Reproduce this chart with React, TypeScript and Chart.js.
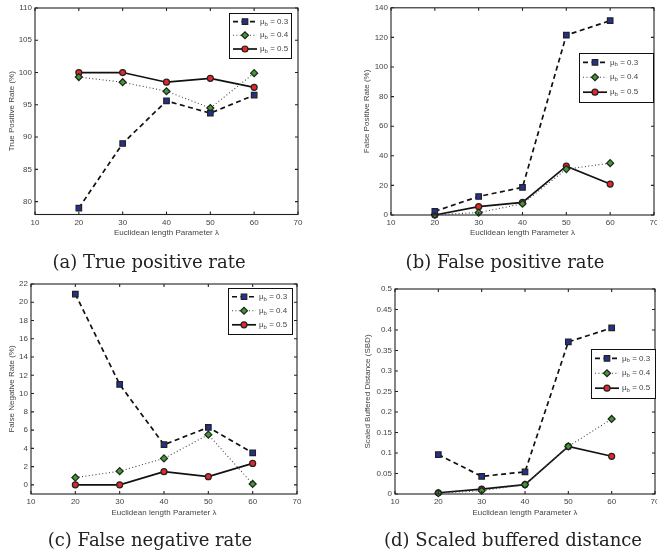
import React, { useEffect, useRef } from 'react';
import { Chart, registerables } from 'chart.js';

Chart.register(...registerables);
Chart.defaults.font.family = "'Liberation Sans', Arial, Helvetica, sans-serif";

// ---------- data ----------
const lambdaValues = [20, 30, 40, 50, 60];
const xTickValues = [10, 20, 30, 40, 50, 60, 70];
const seriesLabels = ['0.3', '0.4', '0.5'];
const xAxisTitle = 'Euclidean length Parameter λ';

const tpr03 = [79.0, 89.0, 95.6, 93.7, 96.5];
const tpr04 = [99.3, 98.5, 97.1, 94.5, 99.9];
const tpr05 = [100.0, 100.0, 98.5, 99.1, 97.7];
const tprTicks = [80, 85, 90, 95, 100, 105, 110];

const fpr03 = [2.5, 12.5, 18.7, 121.5, 131.3];
const fpr04 = [0.2, 1.6, 7.6, 31.0, 35.0];
const fpr05 = [0.0, 5.6, 8.5, 33.0, 20.9];
const fprTicks = [0, 20, 40, 60, 80, 100, 120, 140];

const fnr03 = [20.9, 11.0, 4.4, 6.3, 3.5];
const fnr04 = [0.8, 1.5, 2.9, 5.5, 0.1];
const fnr05 = [0.0, 0.0, 1.45, 0.9, 2.35];
const fnrTicks = [0, 2, 4, 6, 8, 10, 12, 14, 16, 18, 20, 22];

const sbd03 = [0.096, 0.043, 0.054, 0.371, 0.405];
const sbd04 = [0.002, 0.008, 0.023, 0.116, 0.183];
const sbd05 = [0.003, 0.012, 0.023, 0.116, 0.092];
const sbdTicks = [0, 0.05, 0.1, 0.15, 0.2, 0.25, 0.3, 0.35, 0.4, 0.45, 0.5];

// ---------- styles ----------
const seriesStyles = [
  { line: '#111', dash: [5, 3.5], width: 1.7, shape: 'rect', radius: 3.9, fill: '#24318f' },
  { line: '#444', dash: [1, 2.4], width: 1.1, shape: 'rectRot', radius: 3.5, fill: '#3f9b2f' },
  { line: '#111', dash: [] as number[], width: 1.7, shape: 'circle', radius: 3.0, fill: '#e5262b' },
];

type Rect = { x: number; y: number; w: number; h: number };
type Spec = {
  yTitle: string;
  series: number[][];
  yMin: number;
  yMax: number;
  yTicks: number[];
  canvas: Rect;
  area: { L: number; R: number; T: number; B: number };
  yTitleX: number;
  xTitleY: number;
  legend: Rect;
  caption: string;
  captionX: number;
  captionY: number;
};

const panels: Spec[] = [
  {
    yTitle: 'True Positive Rate (%)', series: [tpr03, tpr04, tpr05], yMin: 78, yMax: 110, yTicks: tprTicks,
    canvas: { x: 0, y: 0, w: 320, h: 245 }, area: { L: 35, R: 298, T: 8, B: 214.5 },
    yTitleX: 12, xTitleY: 233, legend: { x: 229, y: 13, w: 62, h: 45 },
    caption: '(a) True positive rate', captionX: 149, captionY: 262,
  },
  {
    yTitle: 'False Positive Rate (%)', series: [fpr03, fpr04, fpr05], yMin: 0, yMax: 140, yTicks: fprTicks,
    canvas: { x: 330, y: 0, w: 350, h: 245 }, area: { L: 391, R: 654, T: 7, B: 215 },
    yTitleX: 367, xTitleY: 233, legend: { x: 579, y: 53, w: 74, h: 49 },
    caption: '(b) False positive rate', captionX: 505, captionY: 262,
  },
  {
    yTitle: 'False Negative Rate (%)', series: [fnr03, fnr04, fnr05], yMin: -1, yMax: 22, yTicks: fnrTicks,
    canvas: { x: 0, y: 270, w: 320, h: 260 }, area: { L: 31, R: 297, T: 284, B: 494 },
    yTitleX: 12, xTitleY: 513, legend: { x: 228, y: 288, w: 64, h: 46 },
    caption: '(c) False negative rate', captionX: 150, captionY: 540,
  },
  {
    yTitle: 'Scaled Buffered Distance (SBD)', series: [sbd03, sbd04, sbd05], yMin: 0, yMax: 0.5, yTicks: sbdTicks,
    canvas: { x: 330, y: 270, w: 350, h: 260 }, area: { L: 395, R: 655, T: 289, B: 494 },
    yTitleX: 368, xTitleY: 513, legend: { x: 591, y: 349, w: 64, h: 49 },
    caption: '(d) Scaled buffered distance', captionX: 513, captionY: 540,
  },
];

const FONT_SIZE = 8;
const LINE_H = FONT_SIZE * 1.2;
const TEXT_COLOR = '#444';

function drawMarker(ctx: CanvasRenderingContext2D, shape: string, x: number, y: number, r: number, fill: string) {
  ctx.save();
  ctx.setLineDash([]);
  ctx.beginPath();
  if (shape === 'rect') {
    const s = Math.SQRT1_2 * r;
    ctx.rect(x - s, y - s, 2 * s, 2 * s);
  } else if (shape === 'rectRot') {
    ctx.moveTo(x - r, y);
    ctx.lineTo(x, y - r);
    ctx.lineTo(x + r, y);
    ctx.lineTo(x, y + r);
    ctx.closePath();
  } else {
    ctx.arc(x, y, r, 0, Math.PI * 2);
  }
  ctx.fillStyle = fill;
  ctx.fill();
  ctx.lineWidth = 1.2;
  ctx.strokeStyle = '#222';
  ctx.stroke();
  ctx.restore();
}

function makeFramePlugin(spec: Spec) {
  return {
    id: 'frameAndLegend',
    afterDraw(chart: any) {
      const { ctx, chartArea } = chart;
      const { left, right, top, bottom } = chartArea;
      const xs = chart.scales.x;
      const ys = chart.scales.y;
      ctx.save();
      ctx.strokeStyle = '#222';
      ctx.lineWidth = 1.1;
      ctx.setLineDash([]);
      ctx.strokeRect(left, top, right - left, bottom - top);
      const tl = 3;
      ctx.beginPath();
      for (const v of xTickValues) {
        const px = xs.getPixelForValue(v);
        ctx.moveTo(px, bottom);
        ctx.lineTo(px, bottom - tl);
        ctx.moveTo(px, top);
        ctx.lineTo(px, top + tl);
      }
      for (const v of spec.yTicks) {
        const py = ys.getPixelForValue(v);
        ctx.moveTo(left, py);
        ctx.lineTo(left + tl, py);
        ctx.moveTo(right, py);
        ctx.lineTo(right - tl, py);
      }
      ctx.stroke();

      // legend
      const lg = spec.legend;
      const bx = lg.x - spec.canvas.x;
      const by = lg.y - spec.canvas.y;
      ctx.fillStyle = '#fff';
      ctx.fillRect(bx, by, lg.w, lg.h);
      ctx.strokeStyle = '#111';
      ctx.lineWidth = 1;
      ctx.strokeRect(bx + 0.5, by + 0.5, lg.w, lg.h);
      seriesStyles.forEach((st, i) => {
        const ry = by + lg.h * (0.19 + 0.305 * i);
        ctx.save();
        ctx.strokeStyle = st.line;
        ctx.lineWidth = st.width;
        ctx.setLineDash(st.dash);
        ctx.beginPath();
        ctx.moveTo(bx + 4, ry);
        ctx.lineTo(bx + 28, ry);
        ctx.stroke();
        ctx.restore();
        drawMarker(ctx, st.shape, bx + 16, ry, st.radius, st.fill);
        ctx.fillStyle = TEXT_COLOR;
        ctx.textBaseline = 'middle';
        ctx.textAlign = 'left';
        ctx.font = `${FONT_SIZE}px 'Liberation Sans', Arial, sans-serif`;
        let tx = bx + 31;
        ctx.fillText('μ', tx, ry);
        tx += ctx.measureText('μ').width;
        ctx.font = `6px 'Liberation Sans', Arial, sans-serif`;
        ctx.fillText('b', tx, ry + 2.5);
        tx += ctx.measureText('b').width;
        ctx.font = `${FONT_SIZE}px 'Liberation Sans', Arial, sans-serif`;
        ctx.fillText(' = ' + seriesLabels[i], tx, ry);
      });
      ctx.restore();
    },
  };
}

function Panel({ spec }: { spec: Spec }) {
  const ref = useRef<HTMLCanvasElement>(null);
  useEffect(() => {
    const c = ref.current!;
    const { canvas, area } = spec;
    const chart = new Chart(c, {
      type: 'line',
      data: {
        datasets: spec.series.map((vals, i) => {
          const st = seriesStyles[i];
          return {
            label: 'μb = ' + seriesLabels[i],
            data: lambdaValues.map((x, j) => ({ x, y: vals[j] })),
            borderColor: st.line,
            borderWidth: st.width,
            borderDash: st.dash,
            pointStyle: st.shape as any,
            pointRadius: st.radius,
            pointBackgroundColor: st.fill,
            pointBorderColor: '#222',
            pointBorderWidth: 1.2,
            tension: 0,
            fill: false,
            clip: false as any,
          };
        }),
      },
      options: {
        animation: false,
        responsive: false,
        devicePixelRatio: 1,
        events: [],
        layout: {
          padding: {
            left: 0,
            top: area.T - canvas.y,
            right: canvas.x + canvas.w - area.R,
            bottom: 0,
          },
        },
        plugins: { legend: { display: false }, tooltip: { enabled: false } },
        scales: {
          x: {
            type: 'linear',
            min: 10,
            max: 70,
            afterBuildTicks: (s: any) => { s.ticks = xTickValues.map((v) => ({ value: v })); },
            afterFit: (s: any) => { s.height = canvas.y + canvas.h - area.B; },
            grid: { display: false, drawTicks: false },
            border: { display: false },
            ticks: { padding: 3, color: TEXT_COLOR, font: { size: FONT_SIZE }, autoSkip: false, maxRotation: 0, callback: (v: any) => String(v) },
            title: {
              display: true, text: xAxisTitle, color: TEXT_COLOR, font: { size: FONT_SIZE },
              padding: { top: 0, bottom: canvas.y + canvas.h - spec.xTitleY - LINE_H / 2 },
            },
          },
          y: {
            type: 'linear',
            min: spec.yMin,
            max: spec.yMax,
            afterBuildTicks: (s: any) => { s.ticks = spec.yTicks.map((v) => ({ value: v })); },
            afterFit: (s: any) => { s.width = area.L - canvas.x; },
            grid: { display: false, drawTicks: false },
            border: { display: false },
            ticks: { padding: 3, color: TEXT_COLOR, font: { size: FONT_SIZE }, autoSkip: false, callback: (v: any) => String(Number(v)) },
            title: {
              display: true, text: spec.yTitle, color: TEXT_COLOR, font: { size: FONT_SIZE },
              padding: { top: spec.yTitleX - canvas.x - LINE_H / 2, bottom: 0 },
            },
          },
        },
      } as any,
      plugins: [makeFramePlugin(spec)],
    });
    return () => chart.destroy();
  }, [spec]);
  const { canvas } = spec;
  return (
    <canvas
      ref={ref}
      width={canvas.w}
      height={canvas.h}
      style={{ position: 'absolute', left: canvas.x, top: canvas.y, width: canvas.w, height: canvas.h }}
    />
  );
}

export default function App() {
  return (
    <div style={{ position: 'absolute', left: 0, top: 0, width: 657, height: 553, overflow: 'hidden', background: '#fff' }}>
      {panels.map((p, i) => (
        <Panel key={i} spec={p} />
      ))}
      {panels.map((p, i) => (
        <div
          key={'c' + i}
          style={{
            position: 'absolute', left: p.captionX, top: p.captionY, transform: 'translate(-50%, -50%)',
            fontFamily: "'DejaVu Serif', 'Liberation Serif', serif", fontSize: 18, lineHeight: 1,
            color: '#222', whiteSpace: 'nowrap',
          }}
        >
          {p.caption}
        </div>
      ))}
    </div>
  );
}
